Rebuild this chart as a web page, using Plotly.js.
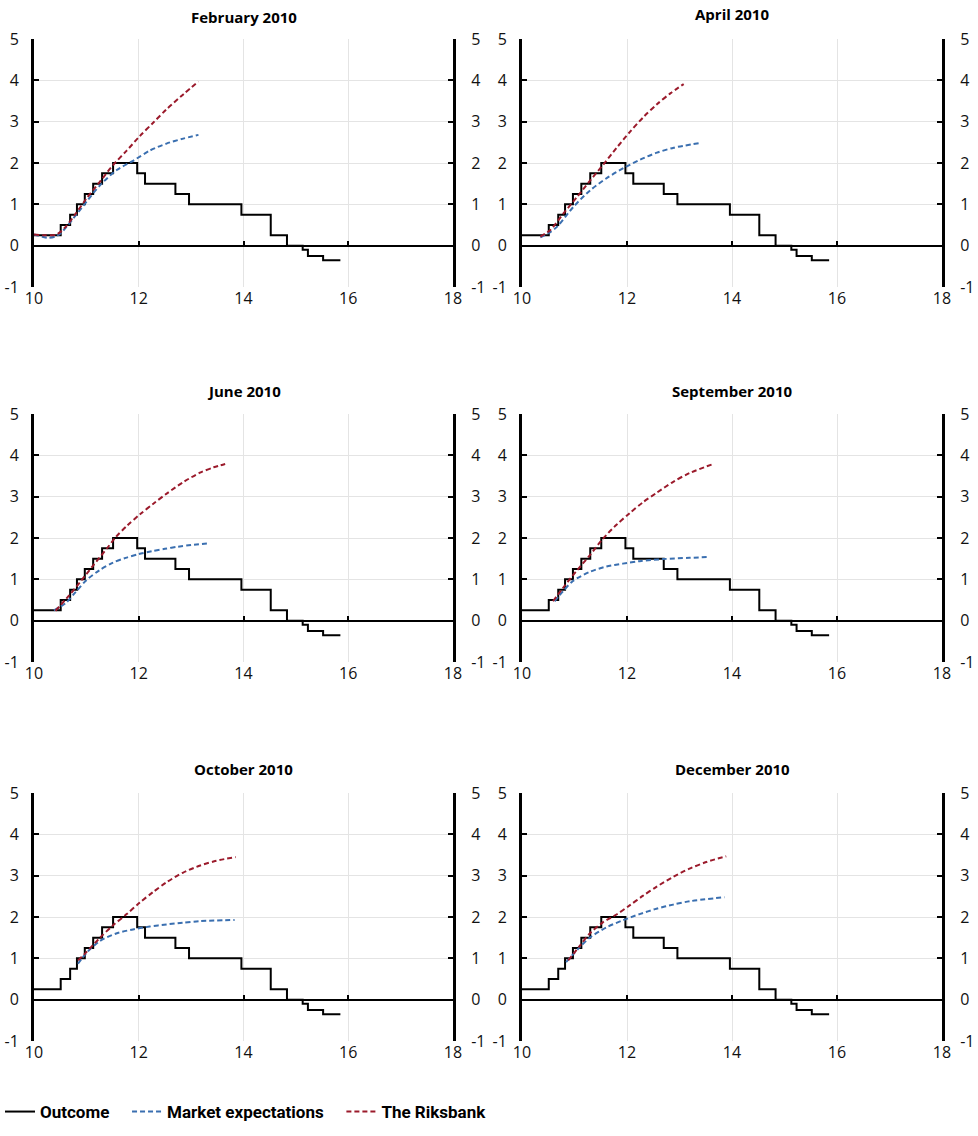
<!DOCTYPE html>
<html>
<head>
<meta charset="utf-8">
<script src="https://cdn.plot.ly/plotly-3.0.1.min.js"></script>
<style>html,body{margin:0;padding:0;background:#fff}#chart{width:978px;height:1136px}</style>
</head>
<body>
<div id="chart"></div>
<script>
// ---- Data ----
const panelTitles = ["February 2010", "April 2010", "June 2010", "September 2010", "October 2010", "December 2010"];
const seriesNames = ["Outcome", "Market expectations", "The Riksbank"];
const xTicks = [10, 12, 14, 16, 18];
const yTicks = [-1, 0, 1, 2, 3, 4, 5];
const yTickText = ["-1", "0", "1", "2", "3", "4", "5"];

// Outcome (repo rate), step function
const outcomeX = [10, 10.51, 10.69, 10.82, 10.97, 11.13, 11.30, 11.51, 11.97, 12.12, 12.70, 12.96, 13.96, 14.52, 14.83, 15.13, 15.23, 15.52, 15.85];
const outcomeY = [0.25, 0.5, 0.75, 1.0, 1.25, 1.5, 1.75, 2.0, 1.75, 1.5, 1.25, 1.0, 0.75, 0.25, 0.0, -0.10, -0.25, -0.35, -0.35];

// February 2010
const febRbX = [10.0, 10.2, 10.43, 10.6, 10.8, 11.0, 11.26, 11.51, 11.77, 12.02, 12.28, 12.53, 12.85, 13.14];
const febRbY = [0.27, 0.25, 0.27, 0.45, 0.78, 1.14, 1.55, 1.95, 2.3, 2.65, 2.98, 3.3, 3.66, 3.97];
const febMkX = [10.0, 10.15, 10.27, 10.4, 10.5, 10.75, 11.0, 11.26, 11.58, 11.9, 12.21, 12.53, 12.85, 13.14];
const febMkY = [0.27, 0.22, 0.19, 0.22, 0.29, 0.66, 1.06, 1.46, 1.83, 2.06, 2.3, 2.47, 2.59, 2.68];

// April 2010
const aprRbX = [10.35, 10.54, 10.79, 11.05, 11.3, 11.56, 11.81, 12.06, 12.32, 12.57, 12.83, 13.08];
const aprRbY = [0.22, 0.38, 0.78, 1.18, 1.58, 1.98, 2.38, 2.76, 3.12, 3.42, 3.69, 3.91];
const aprMkX = [10.35, 10.5, 10.67, 10.98, 11.3, 11.62, 11.94, 12.25, 12.57, 12.89, 13.38];
const aprMkY = [0.2, 0.3, 0.46, 0.94, 1.34, 1.64, 1.88, 2.08, 2.25, 2.37, 2.48];

// June 2010
const junRbX = [10.41, 10.63, 10.89, 11.14, 11.4, 11.56, 11.78, 12.03, 12.29, 12.54, 12.86, 13.17, 13.43, 13.65];
const junRbY = [0.24, 0.55, 0.95, 1.35, 1.76, 2.02, 2.3, 2.58, 2.84, 3.08, 3.36, 3.58, 3.71, 3.79];
const junMkX = [10.38, 10.6, 10.8, 11.0, 11.25, 11.5, 11.75, 12.0, 12.25, 12.5, 12.75, 13.0, 13.33];
const junMkY = [0.25, 0.42, 0.7, 0.98, 1.22, 1.4, 1.52, 1.61, 1.68, 1.74, 1.79, 1.83, 1.87];

// September 2010
const sepRbX = [10.59, 10.78, 11.03, 11.29, 11.54, 11.8, 12.05, 12.3, 12.56, 12.88, 13.19, 13.64];
const sepRbY = [0.47, 0.79, 1.19, 1.58, 1.98, 2.32, 2.6, 2.86, 3.09, 3.36, 3.57, 3.79];
const sepMkX = [10.62, 10.78, 10.97, 11.29, 11.61, 11.92, 12.24, 12.69, 13.19, 13.57];
const sepMkY = [0.47, 0.71, 0.96, 1.18, 1.31, 1.38, 1.44, 1.49, 1.52, 1.54];

// October 2010
const octRbX = [10.84, 11.0, 11.26, 11.51, 11.77, 12.02, 12.27, 12.53, 12.84, 13.16, 13.48, 13.85];
const octRbY = [0.95, 1.15, 1.5, 1.8, 2.07, 2.35, 2.6, 2.84, 3.07, 3.24, 3.36, 3.45];
const octMkX = [10.84, 11.0, 11.26, 11.57, 11.89, 12.21, 12.53, 12.84, 13.16, 13.83];
const octMkY = [0.87, 1.13, 1.42, 1.6, 1.7, 1.77, 1.82, 1.86, 1.9, 1.93];

// December 2010
const decRbX = [10.88, 11.1, 11.29, 11.54, 11.8, 12.05, 12.3, 12.56, 12.88, 13.19, 13.51, 13.89];
const decRbY = [0.95, 1.3, 1.6, 1.87, 2.06, 2.28, 2.51, 2.73, 2.97, 3.17, 3.33, 3.47];
const decMkX = [10.84, 11.1, 11.29, 11.61, 11.92, 12.24, 12.56, 12.88, 13.19, 13.86];
const decMkY = [0.91, 1.27, 1.5, 1.75, 1.92, 2.07, 2.2, 2.3, 2.38, 2.48];

const rbX = [febRbX, aprRbX, junRbX, sepRbX, octRbX, decRbX];
const rbY = [febRbY, aprRbY, junRbY, sepRbY, octRbY, decRbY];
const mkX = [febMkX, aprMkX, junMkX, sepMkX, octMkX, decMkX];
const mkY = [febMkY, aprMkY, junMkY, sepMkY, octMkY, decMkY];

// ---- Layout geometry ----
const W = 978, H = 1136;
const colPx = [[34, 453], [522, 942]];
const rowPx = [[39, 287], [414, 662], [793, 1041]];
const titlePxY = [17, 14, 391, 391, 769, 769];

const FONT = "Open Sans, Noto Sans, sans-serif";
const BLACK = "#000000";
const BLUE = "#3a6fb0";
const RED = "#9b1a2b";
const TICKFONT = {family: FONT, size: 16, color: "#111"};

const traces = [];
const layout = {
  width: W, height: H,
  margin: {l: 0, r: 0, t: 0, b: 0},
  paper_bgcolor: "#ffffff",
  plot_bgcolor: "#ffffff",
  font: {family: FONT, size: 16, color: "#111"},
  showlegend: true,
  legend: {
    orientation: "h", x: 0.0, xanchor: "left", y: 1 - 1112 / H, yanchor: "middle",
    font: {family: "Roboto, Open Sans, sans-serif", size: 17, color: "#000", weight: "bold"},
    itemwidth: 30, tracegroupgap: 0
  },
  annotations: []
};

// legend labels padded to reproduce the spacing between entries
const legendLabels = [seriesNames[0] + "\u00a0\u00a0\u00a0", seriesNames[1] + "\u00a0\u00a0\u00a0", seriesNames[2]];

for (let i = 0; i < 6; i++) {
  const c = i % 2, r = Math.floor(i / 2);
  const xd = [colPx[c][0] / W, colPx[c][1] / W];
  const yd = [1 - rowPx[r][1] / H, 1 - rowPx[r][0] / H];
  const n = i + 1;
  const xa = n === 1 ? "x" : "x" + n;
  const ya = n === 1 ? "y" : "y" + n;
  const xKey = n === 1 ? "xaxis" : "xaxis" + n;
  const yKey = n === 1 ? "yaxis" : "yaxis" + n;
  const yRightN = n + 6, xZeroN = n + 6;

  layout[xKey] = {
    domain: xd, anchor: ya, range: [10, 18], tickvals: xTicks,
    showgrid: true, gridcolor: "#e4e4e4", gridwidth: 1,
    showline: false, zeroline: false, ticks: "",
    tickfont: TICKFONT, fixedrange: true
  };
  layout[yKey] = {
    domain: yd, anchor: xa, range: [-1, 5], tickvals: yTicks, ticktext: yTickText,
    showgrid: true, gridcolor: "#e4e4e4", gridwidth: 1,
    showline: true, linecolor: BLACK, linewidth: 3,
    ticks: "inside", ticklen: 5, tickwidth: 2, tickcolor: BLACK,
    zeroline: true, zerolinecolor: BLACK, zerolinewidth: 2,
    tickfont: TICKFONT, ticklabelstandoff: 9, fixedrange: true
  };
  layout["yaxis" + yRightN] = {
    overlaying: ya, anchor: xa, side: "right", range: [-1, 5], tickvals: yTicks, ticktext: yTickText,
    showgrid: false, zeroline: false,
    showline: true, linecolor: BLACK, linewidth: 3,
    ticks: "inside", ticklen: 5, tickwidth: 2, tickcolor: BLACK,
    tickfont: TICKFONT, ticklabelstandoff: 12, fixedrange: true
  };
  layout["xaxis" + xZeroN] = {
    overlaying: xa, anchor: "free", side: "top",
    position: yd[0] + (yd[1] - yd[0]) / 6,
    range: [10, 18], tickvals: [12, 14, 16],
    showgrid: false, zeroline: false, showline: false, showticklabels: false,
    ticks: "outside", ticklen: 5, tickwidth: 2, tickcolor: BLACK,
    fixedrange: true
  };

  layout.annotations.push({
    text: "<b>" + panelTitles[i] + "</b>", xref: "paper", yref: "paper",
    x: (xd[0] + xd[1]) / 2, y: 1 - titlePxY[i] / H, xanchor: "center", yanchor: "middle",
    showarrow: false, font: {family: FONT, size: 15, color: "#000"}
  });

  // invisible helper traces so the right-hand axis and the zero-line tick axis are drawn
  traces.push({
    type: "scatter", mode: "lines", x: outcomeX, y: outcomeY, xaxis: xa, yaxis: "y" + yRightN,
    line: {width: 0, color: "rgba(0,0,0,0)"}, opacity: 0, showlegend: false, hoverinfo: "skip"
  });
  traces.push({
    type: "scatter", mode: "lines", x: outcomeX, y: outcomeY, xaxis: "x" + xZeroN, yaxis: ya,
    line: {width: 0, color: "rgba(0,0,0,0)"}, opacity: 0, showlegend: false, hoverinfo: "skip"
  });

  traces.push({
    type: "scatter", mode: "lines", name: legendLabels[0], x: outcomeX, y: outcomeY,
    line: {shape: "hv", color: BLACK, width: 2}, xaxis: xa, yaxis: ya,
    showlegend: i === 0, legendgroup: "o", hoverinfo: "skip"
  });
  traces.push({
    type: "scatter", mode: "lines", name: legendLabels[1], x: mkX[i], y: mkY[i],
    line: {shape: "spline", smoothing: 0.8, color: BLUE, width: 2, dash: "5px,3px"}, xaxis: xa, yaxis: ya,
    showlegend: i === 0, legendgroup: "m", hoverinfo: "skip"
  });
  traces.push({
    type: "scatter", mode: "lines", name: legendLabels[2], x: rbX[i], y: rbY[i],
    line: {shape: "spline", smoothing: 0.8, color: RED, width: 2, dash: "5px,3px"}, xaxis: xa, yaxis: ya,
    showlegend: i === 0, legendgroup: "r", hoverinfo: "skip"
  });
}

Plotly.newPlot("chart", traces, layout, {displayModeBar: false, staticPlot: true});
</script>
</body>
</html>
